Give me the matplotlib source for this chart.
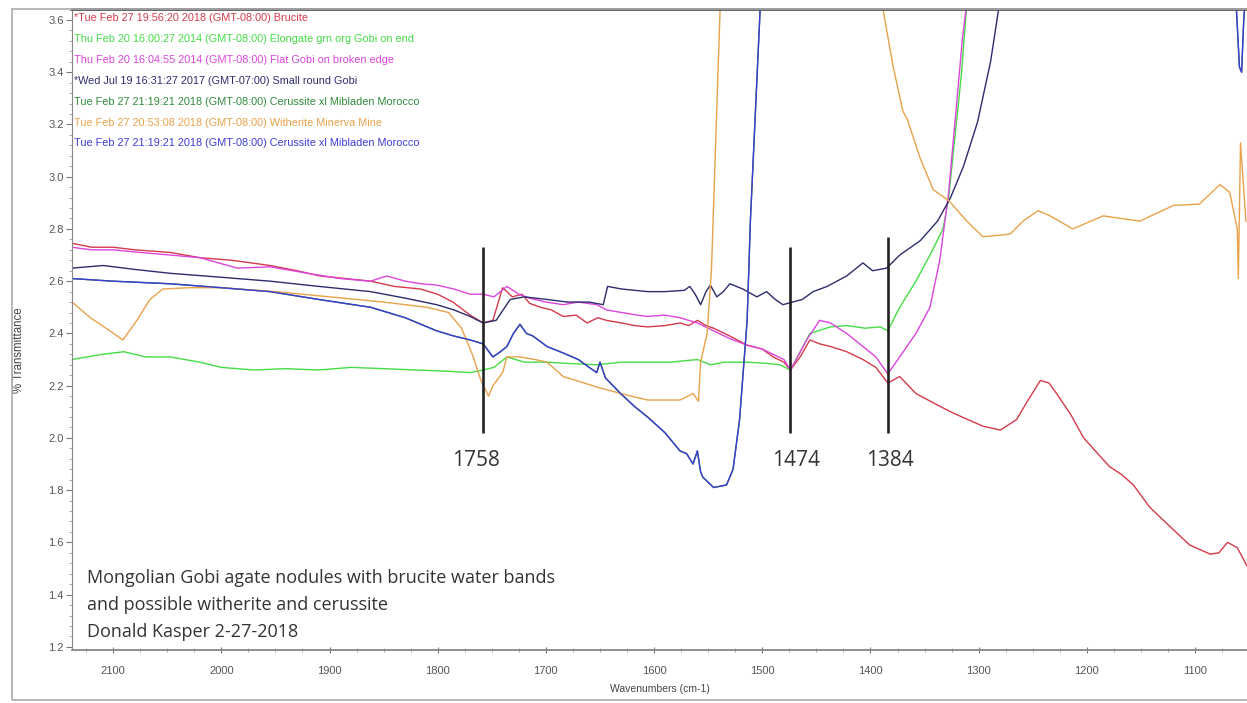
import numpy as np
import matplotlib
matplotlib.use("Agg")
from matplotlib import pyplot as plt
from matplotlib.ticker import MultipleLocator
from matplotlib.patches import Rectangle

# ---- data (wavenumber cm-1, % transmittance) ----
brucite_wn = [2138, 2120, 2100, 2080, 2047, 2020, 1990, 1955, 1930, 1909, 1885, 1862, 1840, 1816, 1800,
              1786, 1770, 1758, 1749, 1740, 1731, 1722, 1715, 1705, 1695, 1684, 1672, 1662, 1652, 1644,
              1630, 1618, 1606, 1590, 1576, 1568, 1560, 1552, 1545, 1530, 1514, 1500, 1490, 1480, 1474,
              1465, 1456, 1447, 1437, 1422, 1407, 1395, 1384, 1373, 1358, 1340, 1326, 1310, 1296, 1280,
              1265, 1255, 1243, 1235, 1228, 1215, 1203, 1190, 1179, 1168, 1157, 1142, 1123, 1105, 1086,
              1078, 1070, 1061, 1052]
brucite_t = [2.745, 2.73, 2.73, 2.72, 2.71, 2.69, 2.68, 2.66, 2.64, 2.62, 2.61, 2.60, 2.58, 2.57, 2.55,
             2.52, 2.47, 2.44, 2.45, 2.575, 2.54, 2.55, 2.515, 2.50, 2.49, 2.465, 2.47, 2.44, 2.46, 2.45,
             2.44, 2.43, 2.425, 2.43, 2.44, 2.43, 2.45, 2.43, 2.42, 2.39, 2.355, 2.34, 2.31, 2.29, 2.26,
             2.31, 2.375, 2.36, 2.35, 2.33, 2.30, 2.27, 2.21, 2.235, 2.17, 2.13, 2.10, 2.07, 2.045, 2.03,
             2.07, 2.14, 2.22, 2.21, 2.17, 2.09, 2.00, 1.94, 1.89, 1.86, 1.82, 1.735, 1.66, 1.59, 1.555,
             1.56, 1.60, 1.58, 1.51]

elongate_wn = [2138, 2110, 2090, 2070, 2047, 2020, 2000, 1970, 1940, 1910, 1880, 1850, 1820, 1790, 1770,
               1758, 1748, 1736, 1720, 1699, 1680, 1653, 1630, 1606, 1585, 1560, 1548, 1535, 1514, 1495,
               1484, 1474, 1465, 1456, 1437, 1422, 1405, 1391, 1384, 1373, 1358, 1345, 1333, 1328, 1322,
               1316, 1311]
elongate_t = [2.30, 2.32, 2.33, 2.31, 2.31, 2.29, 2.27, 2.26, 2.265, 2.26, 2.27, 2.265, 2.26, 2.255, 2.25,
              2.26, 2.27, 2.31, 2.29, 2.29, 2.285, 2.28, 2.29, 2.29, 2.29, 2.30, 2.28, 2.29, 2.29, 2.285,
              2.28, 2.26, 2.33, 2.40, 2.425, 2.43, 2.42, 2.425, 2.41, 2.50, 2.60, 2.70, 2.80, 2.91, 3.15,
              3.39, 3.66]

flat_wn = [2138, 2120, 2100, 2075, 2047, 2020, 1985, 1955, 1920, 1890, 1862, 1847, 1830, 1815, 1801,
           1785, 1770, 1758, 1748, 1736, 1725, 1715, 1700, 1684, 1670, 1653, 1644, 1630, 1615, 1606,
           1590, 1576, 1560, 1545, 1530, 1514, 1500, 1490, 1480, 1474, 1466, 1459, 1447, 1437, 1422,
           1407, 1395, 1384, 1373, 1358, 1345, 1336, 1328, 1321, 1315, 1310]
flat_t = [2.73, 2.72, 2.72, 2.71, 2.70, 2.69, 2.65, 2.655, 2.63, 2.61, 2.60, 2.62, 2.60, 2.59, 2.585,
          2.57, 2.55, 2.55, 2.54, 2.58, 2.55, 2.535, 2.52, 2.51, 2.52, 2.51, 2.49, 2.48, 2.47, 2.465,
          2.47, 2.46, 2.44, 2.41, 2.38, 2.355, 2.34, 2.32, 2.30, 2.26, 2.32, 2.375, 2.45, 2.44, 2.40,
          2.35, 2.31, 2.245, 2.31, 2.40, 2.50, 2.68, 2.93, 3.25, 3.53, 3.70]

round_wn = [2138, 2109, 2080, 2047, 2000, 1955, 1910, 1862, 1830, 1801, 1785, 1770, 1758, 1746, 1733,
            1720, 1699, 1680, 1660, 1647, 1643, 1630, 1606, 1590, 1572, 1567, 1562, 1557, 1552, 1548,
            1542, 1536, 1530, 1518, 1505, 1496, 1488, 1481, 1472, 1463, 1453, 1440, 1422, 1407, 1398,
            1385, 1373, 1354, 1338, 1326, 1314, 1301, 1289, 1282, 1278]
round_t = [2.65, 2.66, 2.645, 2.63, 2.615, 2.60, 2.58, 2.56, 2.535, 2.51, 2.49, 2.465, 2.44, 2.45, 2.53,
           2.54, 2.53, 2.52, 2.52, 2.51, 2.58, 2.57, 2.56, 2.56, 2.565, 2.58, 2.55, 2.51, 2.56, 2.585,
           2.54, 2.56, 2.59, 2.57, 2.54, 2.56, 2.53, 2.51, 2.52, 2.53, 2.56, 2.58, 2.62, 2.67, 2.64,
           2.65, 2.70, 2.755, 2.83, 2.92, 3.04, 3.21, 3.44, 3.63, 3.72]

witherite_wn = [2138, 2121, 2103, 2091, 2078, 2066, 2054, 2030, 2000, 1950, 1900, 1850, 1810, 1790, 1778,
                1768, 1760, 1753, 1749, 1740, 1736, 1724, 1710, 1699, 1684, 1653, 1631, 1606, 1576, 1564,
                1559, 1557, 1551, 1547, 1539, 1530, 1400, 1388, 1379, 1370, 1366, 1354, 1342, 1328, 1311,
                1296, 1271, 1259, 1245, 1234, 1213, 1185, 1151, 1120, 1096, 1077, 1068, 1061, 1060, 1058,
                1053]
witherite_t = [2.52, 2.46, 2.41, 2.375, 2.45, 2.53, 2.57, 2.575, 2.575, 2.56, 2.54, 2.52, 2.50, 2.48, 2.42,
               2.32, 2.22, 2.16, 2.20, 2.25, 2.31, 2.31, 2.30, 2.29, 2.235, 2.195, 2.17, 2.145, 2.145, 2.17,
               2.14, 2.29, 2.40, 2.64, 3.64, 4.0, 4.0, 3.63, 3.42, 3.25, 3.22, 3.07, 2.95, 2.91, 2.83,
               2.77, 2.78, 2.83, 2.87, 2.85, 2.80, 2.85, 2.83, 2.89, 2.895, 2.97, 2.94, 2.80, 2.61, 3.13,
               2.83]

cerussite_wn = [2138, 2100, 2047, 2000, 1955, 1910, 1862, 1830, 1801, 1785, 1770, 1758, 1749, 1742, 1736,
                1730, 1724, 1718, 1712, 1699, 1684, 1670, 1660, 1653, 1650, 1645, 1631, 1618, 1606, 1590,
                1576, 1570, 1564, 1560, 1557, 1555, 1545, 1533, 1527, 1521, 1514, 1511, 1502, 1495, 1065,
                1059, 1057, 1055, 1050]
cerussite_t = [2.61, 2.60, 2.59, 2.575, 2.56, 2.53, 2.50, 2.46, 2.41, 2.39, 2.375, 2.36, 2.31, 2.33, 2.35,
               2.40, 2.435, 2.40, 2.39, 2.35, 2.325, 2.30, 2.27, 2.25, 2.29, 2.23, 2.17, 2.12, 2.08, 2.02,
               1.95, 1.94, 1.90, 1.95, 1.87, 1.85, 1.81, 1.82, 1.88, 2.07, 2.45, 2.83, 3.64, 3.9, 3.9,
               3.42, 3.40, 3.6, 3.9]

legend_labels = [
    "*Tue Feb 27 19:56:20 2018 (GMT-08:00) Brucite",
    "Thu Feb 20 16:00:27 2014 (GMT-08:00) Elongate grn org Gobi on end",
    "Thu Feb 20 16:04:55 2014 (GMT-08:00) Flat Gobi on broken edge",
    "*Wed Jul 19 16:31:27 2017 (GMT-07:00) Small round Gobi",
    "Tue Feb 27 21:19:21 2018 (GMT-08:00) Cerussite xl Mibladen Morocco",
    "Tue Feb 27 20:53:08 2018 (GMT-08:00) Witherite Minerva Mine",
    "Tue Feb 27 21:19:21 2018 (GMT-08:00) Cerussite xl Mibladen Morocco",
]
colors = ['#d43a4a', '#44dd44', '#dd44dd', '#2c2c6e', '#2e8b3c', '#e8a24a', '#3c3cd6']

peaks = [1758, 1474, 1384]
peak_tops = [2.73, 2.73, 2.77]
peak_label_x = [1765, 1469, 1382]

note = ("Mongolian Gobi agate nodules with brucite water bands\n"
        "and possible witherite and cerussite\n"
        "Donald Kasper 2-27-2018")

narrow = ['Liberation Sans Narrow', 'Liberation Sans', 'DejaVu Sans']
regular = ['Liberation Sans', 'DejaVu Sans']

fig = plt.figure(figsize=(12.47, 7.03), dpi=100)
ax = fig.add_axes([72/1247, 53/703, 1175/1247, 641/703])

series = [(brucite_wn, brucite_t), (elongate_wn, elongate_t), (flat_wn, flat_t), (round_wn, round_t),
          (cerussite_wn, cerussite_t), (witherite_wn, witherite_t), (cerussite_wn, cerussite_t)]
for (wn, t), c in zip(series, colors):
    ax.plot(wn, t, color=c, lw=1.0)

ax.set_xlim(2138, 1052)
ax.set_ylim(1.188, 3.642)

# peak markers
ax.vlines(peaks, 2.02, peak_tops, color='#222222', lw=1.9)
for pk, lx in zip(peaks, peak_label_x):
    ax.text(lx, 1.912, str(pk), ha='center', va='center',
            fontsize=15, family='Open Sans', color='#333333')

ax.text(2124, 1.36, note, ha='left', va='center', fontsize=13, family='Open Sans',
        color='#333333', linespacing=1.62)

# coloured legend lines, top left
for i, (lab, c) in enumerate(zip(legend_labels, colors)):
    yy = (650 - (18 + 20.9 * i)) / 641
    ax.text(0.002, yy, lab, transform=ax.transAxes, color=c, fontsize=7.8,
            family=regular, ha='left', va='center')

ax.xaxis.set_major_locator(MultipleLocator(100))
ax.xaxis.set_minor_locator(MultipleLocator(25))
ax.yaxis.set_major_locator(MultipleLocator(0.2))
ax.yaxis.set_minor_locator(MultipleLocator(0.04))
ax.yaxis.set_major_formatter(plt.FuncFormatter(lambda v, p: f"{v:.1f}"))

ax.tick_params(axis='x', which='major', direction='inout', length=5, width=0.8, color='#777777',
               labelsize=8, labelcolor='#555555', pad=9)
ax.tick_params(axis='x', which='minor', direction='inout', length=3, width=0.6, color='#999999')
ax.tick_params(axis='y', which='major', direction='out', length=4, width=0.8, color='#777777',
               labelsize=8, labelcolor='#555555', pad=2)
ax.tick_params(axis='y', which='minor', direction='out', length=2, width=0.6, color='#999999')
for lbl in ax.get_xticklabels() + ax.get_yticklabels():
    lbl.set_family(narrow)

ax.spines['right'].set_visible(False)
ax.spines['top'].set_color('#555555')
ax.spines['top'].set_linewidth(2)
ax.spines['left'].set_color('#888888')
ax.spines['bottom'].set_color('#888888')
ax.spines['bottom'].set_linewidth(1.3)

ax.set_xlabel('Wavenumbers (cm-1)', fontsize=7.5, family=narrow, color='#444444', labelpad=6)
ax.set_ylabel('% Transmittance', fontsize=8.3, family=narrow, color='#444444')
ax.yaxis.set_label_coords(-0.040, 0.468)

# outer window frame
fig.patches.append(Rectangle((12/1247, 3/703), 1.2, 691/703, transform=fig.transFigure,
                             fill=False, edgecolor='#aaaaaa', lw=1.2))

fig.savefig('out.png', dpi=100)
